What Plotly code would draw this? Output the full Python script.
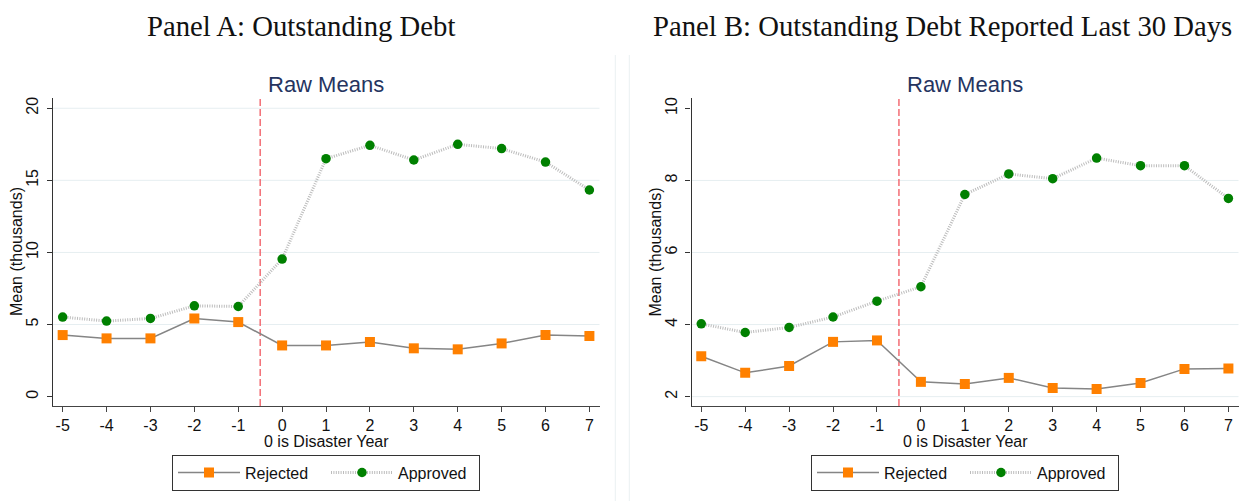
import plotly.graph_objects as go

# Event time relative to the disaster year
years = [-5, -4, -3, -2, -1, 0, 1, 2, 3, 4, 5, 6, 7]

# Panel A: outstanding debt, mean in thousands
a_rejected = [4.27, 4.04, 4.04, 5.42, 5.17, 3.55, 3.55, 3.79, 3.35, 3.28, 3.69, 4.27, 4.20]
a_approved = [5.52, 5.24, 5.42, 6.30, 6.25, 9.54, 16.50, 17.43, 16.41, 17.50, 17.20, 16.27, 14.33]

# Panel B: outstanding debt reported in the last 30 days, mean in thousands
b_rejected = [3.12, 2.66, 2.85, 3.52, 3.56, 2.41, 2.35, 2.52, 2.24, 2.21, 2.38, 2.77, 2.78]
b_approved = [4.02, 3.78, 3.92, 4.21, 4.65, 5.05, 7.61, 8.18, 8.05, 8.62, 8.41, 8.41, 7.50]

a_yticks = [0, 5, 10, 15, 20]
b_yticks = [2, 4, 6, 8, 10]
a_grid = [5, 10, 15, 20]
b_grid = [2, 4, 6, 8]

panel_titles = ["Panel A: Outstanding Debt", "Panel B: Outstanding Debt Reported Last 30 Days"]
subtitle = "Raw Means"
series_names = ["Rejected", "Approved"]
event_line = -0.5

W, H = 1240, 501
SANS = "Liberation Sans, Arial, Helvetica, sans-serif"
SERIF = "Liberation Serif, Times New Roman, serif"


def px_x(p):
    return p / W


def px_y(p):
    return 1 - p / H


fig = go.Figure()

rej_line = dict(color="#858585", width=1.5)
rej_marker = dict(symbol="square", size=10, color="#ff8000", line=dict(width=0))
app_line = dict(color="#bcbcbc", width=3, dash="1px,1.4px")
app_marker = dict(symbol="circle", size=9.5, color="#008000", line=dict(width=0))

for (rej, app, xa, ya, lg) in [
    (a_rejected, a_approved, "x", "y", "legend"),
    (b_rejected, b_approved, "x2", "y2", "legend2"),
]:
    fig.add_trace(go.Scatter(x=years, y=rej, mode="lines+markers", name=series_names[0],
                             line=rej_line, marker=rej_marker, xaxis=xa, yaxis=ya, legend=lg))
    fig.add_trace(go.Scatter(x=years, y=app, mode="lines+markers", name=series_names[1],
                             line=app_line, marker=app_marker, xaxis=xa, yaxis=ya, legend=lg))

y_dom = [px_y(406), px_y(98.3)]
xa_dom = [px_x(53), px_x(599.5)]
xb_dom = [px_x(691.6), px_x(1238.5)]

common_x = dict(
    tickmode="array", tickvals=years, ticktext=[str(v) for v in years],
    range=[-5.22, 7.23], showgrid=False, zeroline=False,
    showline=True, linecolor="#444", linewidth=1.3,
    ticks="outside", ticklen=5, tickwidth=1, tickcolor="#444",
    tickfont=dict(family=SANS, size=16, color="#111"), automargin=False,
)
common_y = dict(
    showgrid=False, zeroline=False, showline=True, linecolor="#333", linewidth=1.3,
    ticks="outside", ticklen=5, tickwidth=1, tickcolor="#333", tickangle=-90,
    tickfont=dict(family=SANS, size=16, color="#111"), automargin=False,
    ticklabelstandoff=2,
)

fig.update_layout(
    width=W, height=H,
    margin=dict(l=0, r=0, t=0, b=0),
    paper_bgcolor="white", plot_bgcolor="white",
    xaxis=dict(domain=xa_dom, anchor="y", **common_x),
    xaxis2=dict(domain=xb_dom, anchor="y2", **common_x),
    yaxis=dict(domain=y_dom, anchor="x", range=[-0.65, 20.69],
               tickmode="array", tickvals=a_yticks, **common_y),
    yaxis2=dict(domain=y_dom, anchor="x2", range=[1.74, 10.28],
                tickmode="array", tickvals=b_yticks, **common_y),
    showlegend=True,
)

legend_common = dict(
    orientation="h", xanchor="center", yanchor="middle",
    bgcolor="white", bordercolor="#333", borderwidth=1,
    font=dict(family=SANS, size=16, color="#111"),
    itemwidth=62, itemclick=False, itemdoubleclick=False,
    tracegroupgap=0, entrywidth=76,
)
fig.update_layout(
    legend=dict(x=px_x(326), y=px_y(472.6), **legend_common),
    legend2=dict(x=px_x(965), y=px_y(472.6), **legend_common),
)

shapes = []
# light horizontal gridlines
for g in a_grid:
    shapes.append(dict(type="line", xref="x domain", yref="y", x0=0, x1=1, y0=g, y1=g,
                       line=dict(color="#e6eef1", width=1), layer="below"))
for g in b_grid:
    shapes.append(dict(type="line", xref="x2 domain", yref="y2", x0=0, x1=1, y0=g, y1=g,
                       line=dict(color="#e6eef1", width=1), layer="below"))
# disaster-year marker
for xr, yr in [("x", "y domain"), ("x2", "y2 domain")]:
    shapes.append(dict(type="line", xref=xr, yref=yr, x0=event_line, x1=event_line, y0=0, y1=1,
                       line=dict(color="#f2636b", width=1.4, dash="7px,3px"), layer="below"))
# faint panel region borders
for xp in [615.3, 629.3]:
    shapes.append(dict(type="line", xref="paper", yref="paper", x0=px_x(xp), x1=px_x(xp),
                       y0=0, y1=px_y(55), line=dict(color="#eaf0f2", width=1)))
fig.update_layout(shapes=shapes)

ann = []
for cx, t in zip([301, 942], panel_titles):
    ann.append(dict(text=t, x=px_x(cx), y=px_y(25.5), xref="paper", yref="paper",
                    xanchor="center", yanchor="middle", showarrow=False,
                    font=dict(family=SERIF, size=28.7, color="#111")))
for cx in [326.2, 965]:
    ann.append(dict(text=subtitle, x=px_x(cx), y=px_y(84), xref="paper", yref="paper",
                    xanchor="center", yanchor="middle", showarrow=False,
                    font=dict(family=SANS, size=22, color="#25345f")))
    ann.append(dict(text="0 is Disaster Year", x=px_x(cx), y=px_y(441), xref="paper", yref="paper",
                    xanchor="center", yanchor="middle", showarrow=False,
                    font=dict(family=SANS, size=16, color="#111")))
for cx in [17, 655.5]:
    ann.append(dict(text="Mean (thousands)", x=px_x(cx), y=px_y(252), xref="paper", yref="paper",
                    xanchor="center", yanchor="middle", showarrow=False, textangle=-90,
                    font=dict(family=SANS, size=16, color="#111")))
fig.update_layout(annotations=ann)

fig.write_html("out.html")
